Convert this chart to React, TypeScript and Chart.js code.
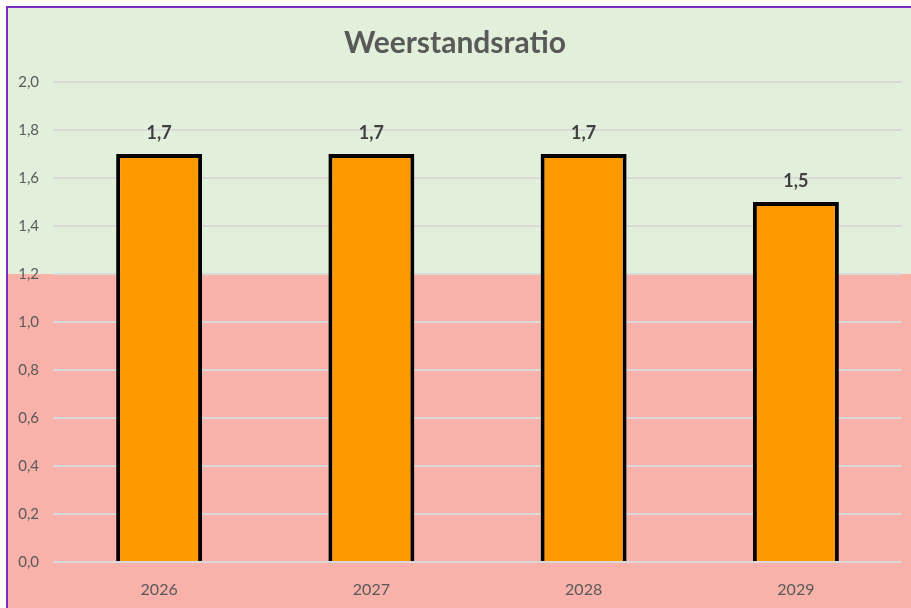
import React, { useEffect, useRef } from "react";
import { Chart, registerables } from "chart.js";

Chart.register(...registerables);

const categories = ["2026", "2027", "2028", "2029"];
const ratioValues = [1.7, 1.7, 1.7, 1.5];
const yTickValues = [0, 0.2, 0.4, 0.6, 0.8, 1.0, 1.2, 1.4, 1.6, 1.8, 2.0];
const thresholdValue = 1.2;
const chartTitle = "Weerstandsratio";

const FONT = "Lato, 'Open Sans', sans-serif";
const GREEN = "#E2EFDA";
const RED = "#F8B2AA";
const fmt = (v: number) => v.toFixed(1).replace(".", ",");

const bgPlugin = {
  id: "bgZones",
  beforeDraw(chart: any) {
    const { ctx, width, height, scales } = chart;
    const yT = scales.y.getPixelForValue(thresholdValue);
    ctx.save();
    ctx.fillStyle = GREEN;
    ctx.fillRect(0, 0, width, height);
    ctx.fillStyle = RED;
    ctx.fillRect(0, yT, width, height - yT);
    ctx.restore();
  },
};

const labelPlugin = {
  id: "barLabels",
  afterDatasetsDraw(chart: any) {
    const { ctx } = chart;
    const meta = chart.getDatasetMeta(0);
    ctx.save();
    ctx.font = `bold 18px ${FONT}`;
    ctx.fillStyle = "#404040";
    ctx.textAlign = "center";
    ctx.textBaseline = "middle";
    meta.data.forEach((el: any, i: number) => {
      ctx.fillText(fmt(ratioValues[i]), el.x, el.y - 21);
    });
    ctx.restore();
  },
};

export default function App() {
  const ref = useRef<HTMLCanvasElement>(null);
  useEffect(() => {
    if (!ref.current) return;
    const chart = new Chart(ref.current, {
      type: "bar",
      data: {
        labels: categories,
        datasets: [
          {
            data: ratioValues,
            backgroundColor: "#FF9900",
            borderColor: "#000000",
            borderWidth: 4,
            categoryPercentage: 1,
            barPercentage: 0.405,
          },
        ],
      },
      options: {
        animation: false,
        responsive: false,
        layout: { padding: { left: 0, right: 9, top: 0, bottom: 0 } },
        plugins: {
          legend: { display: false },
          tooltip: { enabled: false },
          title: {
            display: true,
            text: chartTitle,
            color: "#595959",
            font: { family: FONT, size: 30, weight: "bold" },
            padding: { top: 17, bottom: 21 },
          },
        },
        scales: {
          x: {
            grid: { display: false },
            border: { display: false },
            ticks: {
              color: "#595959",
              font: { family: FONT, size: 16 },
              padding: 10,
            },
            afterFit: (s: any) => {
              s.height = 46;
            },
          },
          y: {
            min: 0,
            max: 2,
            afterBuildTicks: (s: any) => {
              s.ticks = yTickValues.map((v) => ({ value: v }));
            },
            grid: { color: "#D9D9D9", lineWidth: 2, drawTicks: false },
            border: { display: false },
            ticks: {
              color: "#595959",
              font: { family: FONT, size: 15 },
              padding: 14,
              callback: (v: any) => fmt(Number(v)),
            },
            afterFit: (s: any) => {
              s.width = 45;
            },
          },
        },
      },
      plugins: [bgPlugin, labelPlugin],
    });
    return () => chart.destroy();
  }, []);
  return (
    <div
      style={{
        position: "fixed",
        left: 6,
        top: 6,
        width: 905,
        height: 602,
        borderLeft: "2px solid #7B2FBE",
        borderTop: "2px solid #7B2FBE",
        overflow: "hidden",
      }}
    >
      <canvas ref={ref} width={903} height={600} style={{ display: "block" }} />
    </div>
  );
}
